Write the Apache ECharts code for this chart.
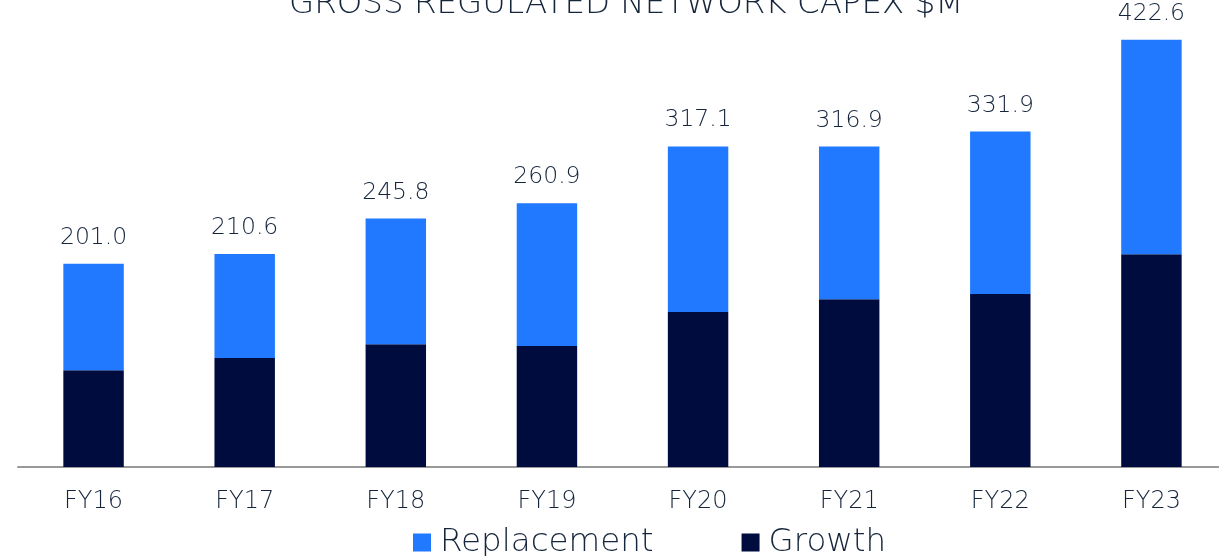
<!DOCTYPE html>
<html><head><meta charset="utf-8">
<script src="https://cdn.jsdelivr.net/npm/echarts@6/dist/echarts.min.js"></script>
<style>html,body{margin:0;padding:0;background:#fff;overflow:hidden}#c{width:1227px;height:556px}</style>
</head><body><div id="c"></div>
<script>
const categories = ['FY16','FY17','FY18','FY19','FY20','FY21','FY22','FY23'];
const growth = [95.8, 107.7, 121.5, 119.6, 153.2, 166.0, 171.0, 210.5];
const replacement = [105.2, 102.9, 124.3, 141.3, 163.9, 150.9, 160.9, 212.1];
const totals = ['201.0','210.6','245.8','260.9','317.1','316.9','331.9','422.6'];
const titleText = 'GROSS REGULATED NETWORK CAPEX $M';

const FONT = 'DejaVu Sans';
const TXT = '#15253c';
const W = 200;
const chart = echarts.init(document.getElementById('c'));
chart.setOption({
  animation: false,
  title: { text: titleText, left: 284, top: -17,
    textStyle: { fontFamily: FONT, fontWeight: W, fontSize: 32.5, color: TXT } },
  legend: { left: 408, top: 521, itemWidth: 18, itemHeight: 18, itemGap: 88,
    icon: 'rect',
    textStyle: { fontFamily: FONT, fontWeight: W, fontSize: 32.5, color: TXT, padding: [0,0,0,4] },
    data: ['Replacement','Growth'] },
  grid: { left: 18, right: 0, top: 12, bottom: 89 },
  xAxis: { type: 'category', data: categories,
    axisLine: { lineStyle: { color: '#999', width: 2 } },
    axisTick: { show: false },
    axisLabel: { fontFamily: FONT, fontWeight: W, fontSize: 24, color: TXT, margin: 23 } },
  yAxis: { type: 'value', min: 0, max: 450, show: false, splitLine: { show: false } },
  series: [
    { name: 'Growth', type: 'bar', stack: 's', data: growth, barWidth: '40%',
      itemStyle: { color: '#000b3e' } },
    { name: 'Replacement', type: 'bar', stack: 's', data: replacement, barWidth: '40%',
      itemStyle: { color: '#2079ff' },
      label: { show: true, position: 'top', distance: 14, fontFamily: FONT, fontWeight: W, fontSize: 23.5, color: TXT,
        formatter: p => totals[p.dataIndex] } }
  ]
});
</script></body></html>
